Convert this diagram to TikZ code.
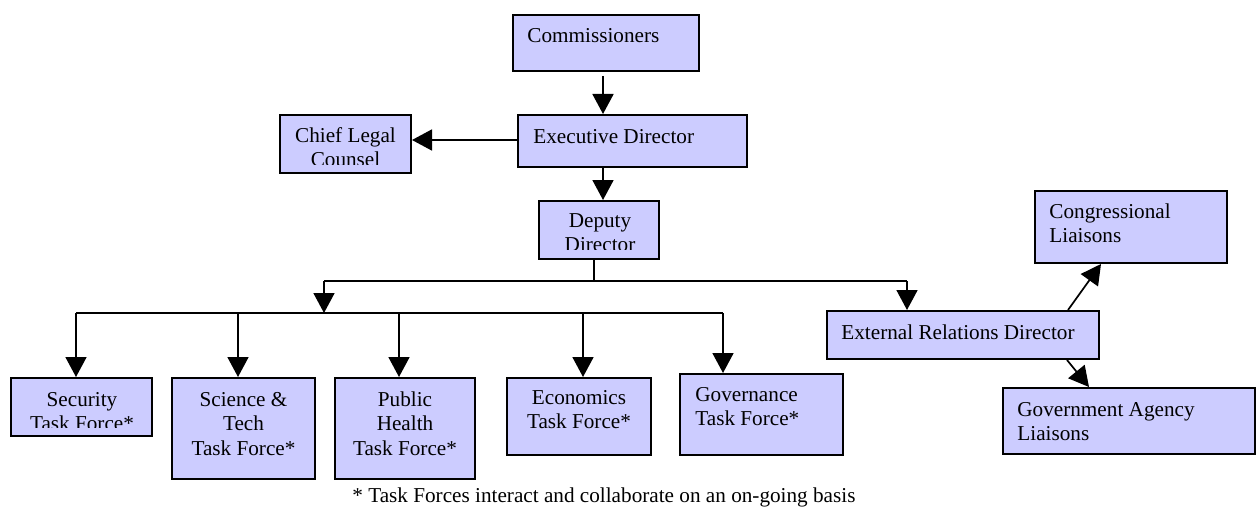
\documentclass[tikz,border=0pt]{standalone}
\usepackage{fontspec}
\setmainfont{Liberation Serif}
\usetikzlibrary{arrows.meta,fit,calc}

\definecolor{boxfill}{RGB}{204,204,255}

% stacked lines whose baseline is the first line's
\newcommand\boxlines[2]{\begin{tabular}[t]{@{}#1@{}}#2\end{tabular}}

\tikzset{
  orgbox/.style={draw=black, line width=1pt, fill=boxfill, inner sep=0pt},
  boxtext/.style={inner sep=0pt, font=\fontsize{10.6pt}{12.25pt}\selectfont},
  link/.style={draw=black, line width=0.85pt},
  arrowlink/.style={link, -{Triangle[length=10pt,width=10.5pt]}}
}

\begin{document}
\begin{tikzpicture}[x=0.5pt, y=-0.5pt]
\useasboundingbox (0,0) rectangle (1257,508);

% ---- boxes ----
\node[orgbox, fit={(513,15) (699,71)}]    (comm)   {};
\node[orgbox, fit={(518,115) (747,167)}]  (exec)   {};
\node[orgbox, fit={(280,115) (411,173)}]  (legal)  {};
\node[orgbox, fit={(539,201) (659,259)}]  (deputy) {};
\node[orgbox, fit={(11,378) (152,436)}]   (sec)    {};
\node[orgbox, fit={(172,378) (315,479)}]  (sci)    {};
\node[orgbox, fit={(335,378) (475,479)}]  (ph)     {};
\node[orgbox, fit={(507,378) (651,455)}]  (econ)   {};
\node[orgbox, fit={(680,374) (843,455)}]  (gov)    {};
\node[orgbox, fit={(827,311) (1099,359)}] (ext)    {};
\node[orgbox, fit={(1035,191) (1227,263)}] (cong)  {};
\node[orgbox, fit={(1003,388) (1255,454)}] (agency) {};

% ---- box texts ----
\node[boxtext, anchor=base west] (commT) at (527,43) {Commissioners};
\node[boxtext, anchor=base west] (execT) at (533,143) {Executive Director};
\begin{scope}
  \clip (282,117) rectangle (409,164);
  \node[boxtext, anchor=base] (legalT) at (345.5,142) {\boxlines{c}{Chief Legal\\Counsel}};
\end{scope}
\begin{scope}
  \clip (541,203) rectangle (657,249);
  \node[boxtext, anchor=base] (deputyT) at (600,227) {\boxlines{c}{Deputy\\Director}};
\end{scope}
\begin{scope}
  \clip (13,380) rectangle (150,427);
  \node[boxtext, anchor=base] (secT) at (82,406) {\boxlines{c}{Security\\Task Force*}};
\end{scope}
\node[boxtext, anchor=base] (sciT) at (243.5,406) {\boxlines{c}{Science \&\\Tech\\Task Force*}};
\node[boxtext, anchor=base] (phT) at (405,406) {\boxlines{c}{Public\\Health\\Task Force*}};
\node[boxtext, anchor=base] (econT) at (579,404) {\boxlines{c}{Economics\\Task Force*}};
\node[boxtext, anchor=base west] (govT) at (695,401) {\boxlines{l}{Governance\\Task Force*}};
\node[boxtext, anchor=base west] (extT) at (841,339) {External Relations Director};
\node[boxtext, anchor=base west] (congT) at (1049,218) {\boxlines{l}{Congressional\\Liaisons}};
\node[boxtext, anchor=base west] (agencyT) at (1017,416) {\boxlines{l}{Government Agency\\Liaisons}};

% footnote
\node[boxtext, anchor=base west] (note) at (352,502) {* Task Forces interact and collaborate on an on-going basis};

% ---- junction points of the distribution lines ----
\coordinate (upper)  at (594,281);
\coordinate (upperL) at (324,281);
\coordinate (upperR) at (907,281);
\coordinate (lower)  at (324,313);
\coordinate (lowerL) at (76,313);
\coordinate (lowerR) at (723,313);

% ---- connectors ----
\draw[arrowlink] ([yshift=-2pt]comm.south -| 603,0) -- (exec.north -| 603,0);
\draw[arrowlink] (exec.west |- 0,140) -- (legal.east |- 0,140);
\draw[arrowlink] (exec.south -| 603,0) -- (deputy.north -| 603,0);

\draw[link] (deputy.south -| upper) -- (upper);
\draw[link] (upperL) -- (upperR);
\draw[arrowlink] (upperR) -- (ext.north -| upperR);
\draw[arrowlink] (upperL) -- (lower);

\draw[link] (lowerL) -- (lowerR);
\draw[arrowlink] (lowerL) -- (sec.north -| lowerL);
\draw[arrowlink] (lower -| 238,0) -- (sci.north -| 238,0);
\draw[arrowlink] (lower -| 399,0) -- (ph.north -| 399,0);
\draw[arrowlink] (lower -| 583,0) -- (econ.north -| 583,0);
\draw[arrowlink] (lowerR) -- (gov.north -| lowerR);

\draw[arrowlink] (ext.north -| 1068,0) -- (cong.south -| 1101,0);
\draw[arrowlink] (ext.south -| 1067,0) -- (agency.north -| 1089,0);
\end{tikzpicture}
\end{document}
